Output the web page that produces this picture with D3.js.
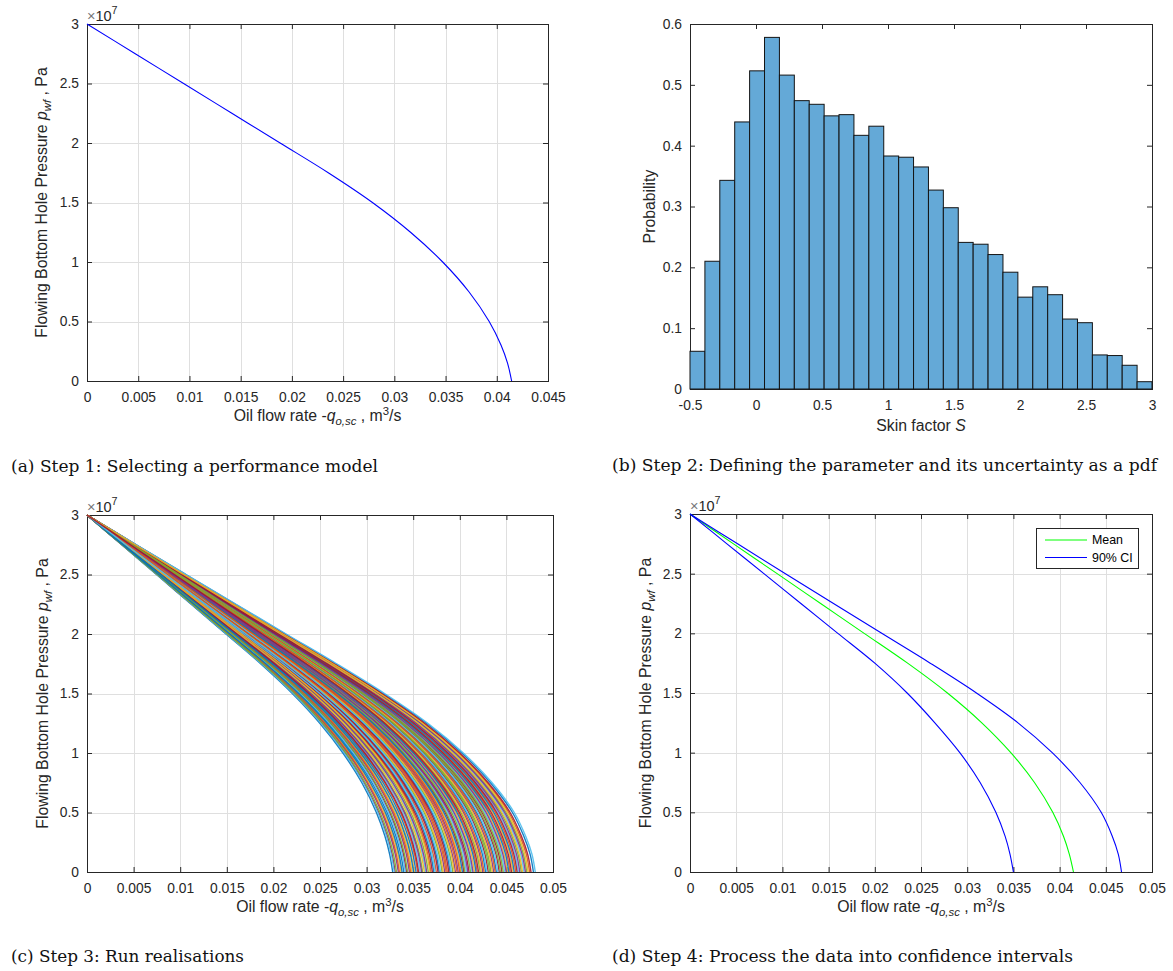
<!DOCTYPE html>
<html>
<head>
<meta charset="utf-8">
<script src="https://cdn.jsdelivr.net/npm/d3@7"></script>
<style>
  body { margin: 0; background: #fff; }
  svg { display: block; }
</style>
</head>
<body>
<svg id="fig" width="1173" height="971"></svg>
<script>
// ---- data (pressures in units of 1e7 Pa, rates in m3/s) ----
const pressureLevels = [3, 2.75, 2.5, 2.25, 2, 1.75, 1.5, 1.25, 1, 0.75, 0.5, 0.3, 0.15, 0]

// (a) performance model curve
const rateModel = [0, 0.00471, 0.00943, 0.01414, 0.01885, 0.02355, 0.02786, 0.03158, 0.03472, 0.03728, 0.03926, 0.04042, 0.04105, 0.04145]

// (b) skin factor histogram, 31 bins between -0.5 and 3
const skinRange = [-0.5, 3]
const skinProbability = [
  0.062, 0.210, 0.343, 0.439, 0.523, 0.578, 0.516, 0.474, 0.468, 0.449,
  0.451, 0.417, 0.432, 0.383, 0.381, 0.365, 0.327, 0.298, 0.241, 0.238,
  0.221, 0.192, 0.151, 0.168, 0.155, 0.115, 0.109, 0.056, 0.055, 0.039, 0.012
]

// (c) envelope of the realisations and the open flow rate of each realisation
const realisationLowEdge = [0, 0.00373, 0.00746, 0.01118, 0.01491, 0.01863, 0.02203, 0.02498, 0.02746, 0.02949, 0.03105, 0.03197, 0.03247, 0.0328]
const realisationHighEdge = [0, 0.0053, 0.01064, 0.0160, 0.02137, 0.02678, 0.03193, 0.03657, 0.04038, 0.04347, 0.04584, 0.04707, 0.04774, 0.0481]
const realisationAOF = [
  0.03280, 0.03297, 0.03306, 0.03321, 0.03340, 0.03352, 0.03369, 0.03381, 0.03399, 0.03415,
  0.03428, 0.03440, 0.03459, 0.03472, 0.03486, 0.03503, 0.03512, 0.03530, 0.03547, 0.03558,
  0.03574, 0.03590, 0.03601, 0.03619, 0.03633, 0.03645, 0.03662, 0.03679, 0.03690, 0.03706,
  0.03721, 0.03735, 0.03748, 0.03766, 0.03779, 0.03793, 0.03810, 0.03822, 0.03838, 0.03853,
  0.03866, 0.03882, 0.03896, 0.03909, 0.03925, 0.03941, 0.03953, 0.03970, 0.03983, 0.03999,
  0.04012, 0.04028, 0.04043, 0.04055, 0.04071, 0.04086, 0.04099, 0.04115, 0.04131, 0.04142,
  0.04158, 0.04174, 0.04187, 0.04201, 0.04218, 0.04231, 0.04246, 0.04260, 0.04277, 0.04290,
  0.04305, 0.04320, 0.04334, 0.04349, 0.04363, 0.04379, 0.04392, 0.04408, 0.04423, 0.04436,
  0.04452, 0.04466, 0.04481, 0.04497, 0.04510, 0.04526, 0.04540, 0.04555, 0.04571, 0.04584,
  0.04600, 0.04615, 0.04629, 0.04644, 0.04660, 0.04673, 0.04689, 0.04704, 0.04718, 0.04733,
  0.04749, 0.04764, 0.04790, 0.04810
]

// (d) mean and 90% confidence interval
const rateMean = [0, 0.00471, 0.00943, 0.01414, 0.01885, 0.02355, 0.02786, 0.03158, 0.03472, 0.03728, 0.03926, 0.04042, 0.04105, 0.0415]
const rateLower = [0, 0.0040, 0.0080, 0.0120, 0.0160, 0.0200, 0.0235, 0.0265, 0.0292, 0.0314, 0.0331, 0.0341, 0.03463, 0.0350]
const rateUpper = [0, 0.00515, 0.01033, 0.01553, 0.02075, 0.0260, 0.0310, 0.0355, 0.0392, 0.0422, 0.0445, 0.0457, 0.04635, 0.0467]
const legendLabels = ['Mean', '90% CI']

// ticks
const rateTicks45 = [0, 0.005, 0.01, 0.015, 0.02, 0.025, 0.03, 0.035, 0.04, 0.045]
const rateTicks50 = [0, 0.005, 0.01, 0.015, 0.02, 0.025, 0.03, 0.035, 0.04, 0.045, 0.05]
const pressureTicks = [0, 0.5, 1, 1.5, 2, 2.5, 3]
const skinTicks = [-0.5, 0, 0.5, 1, 1.5, 2, 2.5, 3]
const probabilityTicks = [0, 0.1, 0.2, 0.3, 0.4, 0.5, 0.6]

const captions = [
  '(a) Step 1: Selecting a performance model',
  '(b) Step 2: Defining the parameter and its uncertainty as a pdf',
  '(c) Step 3: Run realisations',
  '(d) Step 4: Process the data into confidence intervals'
]

// ---- styling ----
const AXIS_COLOR = '#262626'
const GRID_COLOR = '#dfdfdf'
const SANS = "'Liberation Sans', Arial, Helvetica, sans-serif"
const SERIF = "'DejaVu Serif', serif"
const TICK_FS = 13.8
const LABEL_FS = 15.8
const MATLAB_ORDER = ['#0072BD', '#D95319', '#EDB120', '#7E2F8E', '#77AC30', '#4DBEEE', '#A2142F']

var svg = d3.select('#fig')

function makePanel(cfg) {
  var x = d3.scaleLinear().domain(cfg.xDomain).range([cfg.left, cfg.right])
  var y = d3.scaleLinear().domain(cfg.yDomain).range([cfg.bottom, cfg.top])
  var g = svg.append('g')

  if (cfg.grid) {
    g.append('g').selectAll('line').data(cfg.xTicks).join('line')
      .attr('x1', d => Math.round(x(d)) + 0.5).attr('x2', d => Math.round(x(d)) + 0.5)
      .attr('y1', cfg.top).attr('y2', cfg.bottom)
      .attr('stroke', GRID_COLOR)
    g.append('g').selectAll('line').data(cfg.yTicks).join('line')
      .attr('y1', d => Math.round(y(d)) + 0.5).attr('y2', d => Math.round(y(d)) + 0.5)
      .attr('x1', cfg.left).attr('x2', cfg.right)
      .attr('stroke', GRID_COLOR)
  }

  // ticks point inward on all four sides
  var tl = 5
  var axes = [
    [d3.axisBottom(x).tickValues(cfg.xTicks).tickFormat(String).tickPadding(11), 'translate(0,' + cfg.bottom + ')'],
    [d3.axisTop(x).tickValues(cfg.xTicks).tickFormat(''), 'translate(0,' + cfg.top + ')'],
    [d3.axisLeft(y).tickValues(cfg.yTicks).tickFormat(String).tickPadding(8), 'translate(' + cfg.left + ',0)'],
    [d3.axisRight(y).tickValues(cfg.yTicks).tickFormat(''), 'translate(' + cfg.right + ',0)']
  ]
  axes.forEach(function (a) {
    var ag = g.append('g').attr('transform', a[1])
      .call(a[0].tickSizeInner(-tl).tickSizeOuter(0))
    ag.select('.domain').remove()
    ag.attr('font-family', null).attr('font-size', null)
    ag.selectAll('line').attr('stroke', AXIS_COLOR)
    ag.selectAll('text')
      .attr('fill', AXIS_COLOR)
      .style('font-family', SANS)
      .style('font-size', TICK_FS + 'px')
  })

  g.append('rect')
    .attr('x', cfg.left + 0.5).attr('y', cfg.top + 0.5)
    .attr('width', cfg.right - cfg.left).attr('height', cfg.bottom - cfg.top)
    .attr('fill', 'none').attr('stroke', AXIS_COLOR).attr('stroke-width', 1)

  var marks = svg.append('g')
  return { x: x, y: y, g: g, marks: marks, cfg: cfg }
}

function rateTitle(p) {
  var fs = LABEL_FS
  var t = svg.append('text')
    .attr('x', (p.cfg.left + p.cfg.right) / 2)
    .attr('y', p.cfg.bottom + 40)
    .attr('text-anchor', 'middle')
    .attr('fill', AXIS_COLOR)
    .style('font-family', SANS)
    .style('font-size', fs + 'px')
  t.append('tspan').text('Oil flow rate  -')
  t.append('tspan').attr('font-style', 'italic').text('q')
  t.append('tspan').attr('font-size', fs * 0.72).attr('dy', fs * 0.28).attr('font-style', 'italic').text('o,sc')
  t.append('tspan').attr('dy', -fs * 0.28).text(' , m')
  t.append('tspan').attr('font-size', fs * 0.72).attr('dy', -fs * 0.38).text('3')
  t.append('tspan').attr('dy', fs * 0.38).text('/s')
}

function pressureTitle(p, offset) {
  var fs = LABEL_FS
  var cx = p.cfg.left - offset
  var cy = (p.cfg.top + p.cfg.bottom) / 2
  var t = svg.append('text')
    .attr('transform', 'translate(' + cx + ',' + cy + ') rotate(-90)')
    .attr('text-anchor', 'middle')
    .attr('fill', AXIS_COLOR)
    .style('font-family', SANS)
    .style('font-size', fs + 'px')
  t.append('tspan').text('Flowing Bottom Hole Pressure ')
  t.append('tspan').attr('font-style', 'italic').text('p')
  t.append('tspan').attr('font-size', fs * 0.72).attr('dy', fs * 0.28).attr('font-style', 'italic').text('wf')
  t.append('tspan').attr('dy', -fs * 0.28).text(' , Pa')
}

function exponentLabel(p) {
  var t = svg.append('text')
    .attr('x', p.cfg.left)
    .attr('y', p.cfg.top - 3.5)
    .attr('fill', AXIS_COLOR)
    .style('font-family', SANS)
    .style('font-size', (TICK_FS + 0.7) + 'px')
  t.append('tspan').attr('fill', '#777').text('\u00d7')
  t.append('tspan').text('10')
  t.append('tspan').attr('font-size', TICK_FS * 0.78).attr('dy', -TICK_FS * 0.45).text('7')
}

var curve = d3.line()
  .x(d => d[0]).y(d => d[1])
  .curve(d3.curveCatmullRom.alpha(0.5))

function drawRateCurve(p, rates, color, width, opacity) {
  var pts = pressureLevels.map((pr, i) => [p.x(rates[i]), p.y(pr)])
  p.marks.append('path')
    .attr('d', curve(pts))
    .attr('fill', 'none')
    .attr('stroke', color)
    .attr('stroke-width', width || 1.1)
    .attr('stroke-opacity', opacity || 1)
}

// ---- (a) ----
var pa = makePanel({
  left: 87, right: 548, top: 24, bottom: 381,
  xDomain: [0, 0.045], yDomain: [0, 3],
  xTicks: rateTicks45, yTicks: pressureTicks, grid: true
})
drawRateCurve(pa, rateModel, '#0000ff')
rateTitle(pa)
pressureTitle(pa, 40)
exponentLabel(pa)

// ---- (b) ----
var pb = makePanel({
  left: 690, right: 1152, top: 24, bottom: 389,
  xDomain: skinRange, yDomain: [0, 0.6],
  xTicks: skinTicks, yTicks: probabilityTicks, grid: false
})
var binWidth = (skinRange[1] - skinRange[0]) / skinProbability.length
pb.marks.selectAll('rect').data(skinProbability).join('rect')
  .attr('x', (d, i) => pb.x(skinRange[0] + i * binWidth))
  .attr('width', (d, i) => pb.x(skinRange[0] + (i + 1) * binWidth) - pb.x(skinRange[0] + i * binWidth))
  .attr('y', d => pb.y(d))
  .attr('height', d => pb.y(0) - pb.y(d))
  .attr('fill', '#64a9d7')
  .attr('stroke', '#141414')
  .attr('stroke-width', 1)
svg.append('text')
  .attr('x', (pb.cfg.left + pb.cfg.right) / 2)
  .attr('y', pb.cfg.bottom + 42)
  .attr('text-anchor', 'middle')
  .attr('fill', AXIS_COLOR)
  .style('font-family', SANS)
  .style('font-size', LABEL_FS + 'px')
  .call(function (t) {
    t.append('tspan').text('Skin factor ')
    t.append('tspan').attr('font-style', 'italic').text('S')
  })
svg.append('text')
  .attr('transform', 'translate(' + (pb.cfg.left - 35) + ',' + (pb.cfg.top + pb.cfg.bottom) / 2 + ') rotate(-90)')
  .attr('text-anchor', 'middle')
  .attr('fill', AXIS_COLOR)
  .style('font-family', SANS)
  .style('font-size', LABEL_FS + 'px')
  .text('Probability')

// ---- (c) ----
var pc = makePanel({
  left: 87, right: 553, top: 515, bottom: 872,
  xDomain: [0, 0.05], yDomain: [0, 3],
  xTicks: rateTicks50, yTicks: pressureTicks, grid: true
})
// each realisation sits inside the envelope according to its open flow rate.
// run order is not sorted by rate: use a bit-reversed order so neighbouring
// curves get unrelated colours, as MATLAB's colour cycling gives
function bitReverse7(k) {
  var r = 0
  for (var b = 0; b < 7; b++) if (k & (1 << b)) r |= 1 << (6 - b)
  return r
}
var aofLo = realisationLowEdge[realisationLowEdge.length - 1]
var aofHi = realisationHighEdge[realisationHighEdge.length - 1]
var runOrder = d3.range(128).map(bitReverse7).filter(i => i < realisationAOF.length)
runOrder.forEach(function (idx, k) {
  var w = (realisationAOF[idx] - aofLo) / (aofHi - aofLo)
  var rates = realisationLowEdge.map((lo, i) => lo + w * (realisationHighEdge[i] - lo))
  drawRateCurve(pc, rates, MATLAB_ORDER[(k * 4) % MATLAB_ORDER.length], 1.4, 0.9)
})
rateTitle(pc)
pressureTitle(pc, 39)
exponentLabel(pc)

// ---- (d) ----
var pd = makePanel({
  left: 690, right: 1152, top: 514, bottom: 872,
  xDomain: [0, 0.05], yDomain: [0, 3],
  xTicks: rateTicks50, yTicks: pressureTicks, grid: true
})
drawRateCurve(pd, rateMean, '#00ff00')
drawRateCurve(pd, rateLower, '#0000ff')
drawRateCurve(pd, rateUpper, '#0000ff')
rateTitle(pd)
pressureTitle(pd, 39)
exponentLabel(pd)

// legend
var lg = svg.append('g').attr('transform', 'translate(' + (pd.cfg.right - 116) + ',' + (pd.cfg.top + 14) + ')')
lg.append('rect').attr('x', 0.5).attr('y', 0.5).attr('width', 102).attr('height', 40)
  .attr('fill', '#fff').attr('stroke', AXIS_COLOR)
var legendColors = ['#00ff00', '#0000ff']
legendLabels.forEach(function (lab, i) {
  var yy = 12 + i * 17.5
  lg.append('line').attr('x1', 9).attr('x2', 51).attr('y1', yy).attr('y2', yy)
    .attr('stroke', legendColors[i]).attr('stroke-width', 1.1)
  lg.append('text').attr('x', 56).attr('y', yy).attr('dy', '0.35em')
    .attr('fill', '#000')
    .style('font-family', SANS).style('font-size', '12.4px')
    .text(lab)
})

// ---- captions ----
var capPos = [[11, 472], [612, 471], [11, 962], [612, 962]]
var capWidth = [367, 545, 233, 461]
captions.forEach(function (c, i) {
  svg.append('text')
    .attr('x', capPos[i][0]).attr('y', capPos[i][1])
    .attr('fill', '#111')
    .attr('textLength', capWidth[i])
    .attr('lengthAdjust', 'spacingAndGlyphs')
    .style('font-family', SERIF)
    .style('font-size', '17.5px')
    .text(c)
})
</script>
</body>
</html>
